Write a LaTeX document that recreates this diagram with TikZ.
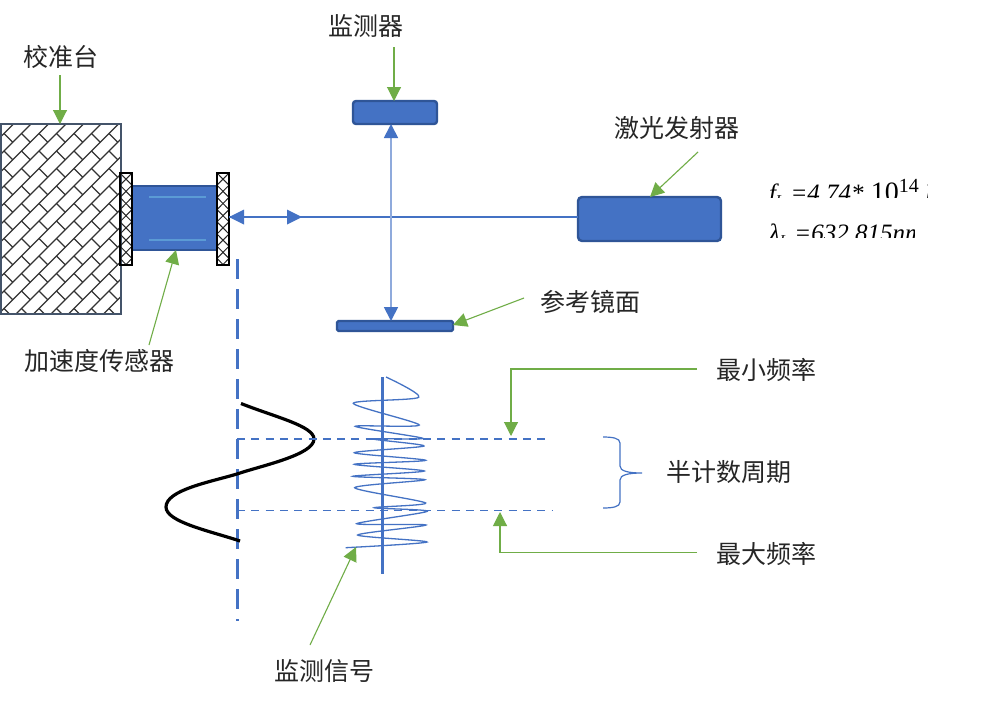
\documentclass[tikz,border=0pt]{standalone}
\usepackage{fontspec}
\setmainfont{Noto Sans CJK SC}
\newfontfamily\formulait{Liberation Serif Italic}
\newfontfamily\formulaup{Liberation Serif}
\usetikzlibrary{arrows.meta}
\definecolor{bodyblue}{HTML}{4472C4}
\definecolor{edgeblue}{HTML}{2F5597}
\definecolor{paleblue}{HTML}{8FAADC}
\definecolor{sheen}{HTML}{5B9BD5}
\definecolor{leafgreen}{HTML}{70AD47}
\definecolor{slateedge}{HTML}{44546A}
\tikzset{
  solidpart/.style={draw=edgeblue,fill=bodyblue,line width=2.4pt,inner sep=0,outer sep=0},
  platebox/.style={draw=black,line width=2.8pt,inner sep=0,outer sep=0,minimum width=12pt,minimum height=92pt},
  tablebox/.style={draw=slateedge,line width=2.8pt,inner sep=0,outer sep=0,minimum width=120pt,minimum height=190pt},
  caption/.style={font=\fontsize{25}{28}\selectfont,text=black!85,inner sep=0,outer sep=0},
  callout/.style={draw=leafgreen,line width=1.1pt,-{Triangle[width=14pt,length=14pt]},fill=none},
  beam/.style={draw=bodyblue,line width=1.2pt},
  beamarrow/.style={draw=paleblue,line width=1.8pt,{Triangle[width=14pt,length=14pt,color=bodyblue]}-{Triangle[width=14pt,length=14pt,color=bodyblue]}},
  levelline/.style={draw=bodyblue,line width=1.5pt,dash pattern=on 8pt off 6.3pt},
  formula/.style={font=\fontsize{25}{28}\selectfont\formulait,text=black,inner sep=0,outer sep=0,anchor=base west},
}
\begin{document}
\begin{tikzpicture}[x=1pt,y=-1pt]
\useasboundingbox (0,0) rectangle (1000,702);
\fill[white] (0,0) rectangle (1000,702);

% Shingle hatching of the calibration table
\begin{scope}
  \clip (1,124) rectangle (121,314);
  \foreach \k in {0,...,26}{
    \draw[black!80,line width=1.2pt] (\k*17.5+4,116) -- (\k*17.5-208+4,324);
  }
  \foreach \i in {0,...,8}{
    \foreach \j in {0,...,12}{
      \draw[black!80,line width=1.2pt] (\i*17.5-13.5,\j*17.5+116) -- ++(8.75,8.75);
    }
  }
\end{scope}
\node[tablebox] (table) at (61,219) {};

% Cross hatching of the two mounting plates
\begin{scope}
  \clip (120,173) rectangle (132,265);
  \foreach \k in {-1,...,8}{
    \draw[black!85,line width=1pt] (120,173+\k*12.2) -- (132,173+\k*12.2+12.2);
    \draw[black!85,line width=1pt] (120,173+\k*12.2+12.2) -- (132,173+\k*12.2);
  }
\end{scope}
\begin{scope}
  \clip (217,173) rectangle (229,265);
  \foreach \k in {-1,...,8}{
    \draw[black!85,line width=1pt] (217,173+\k*12.2) -- (229,173+\k*12.2+12.2);
    \draw[black!85,line width=1pt] (217,173+\k*12.2+12.2) -- (229,173+\k*12.2);
  }
\end{scope}

% Accelerometer body and mounting plates
\node[solidpart,minimum width=85pt,minimum height=64pt] (sensor) at (174.5,218) {};
\draw[sheen,line width=1.2pt] (149,197) -- (206,197);
\draw[sheen,line width=1.2pt] (149,240) -- (206,240);
\node[platebox] (plateL) at (126,219) {};
\node[platebox] (plateR) at (223,219) {};

% Optical parts
\node[solidpart,rounded corners=3pt,minimum width=84pt,minimum height=23pt] (detector) at (395,112.5) {};
\node[solidpart,rounded corners=1.5pt,minimum width=116pt,minimum height=10pt] (mirror) at (395,326) {};
\node[solidpart,rounded corners=4pt,minimum width=143pt,minimum height=44pt] (laser) at (649.5,219) {};

% Beams
\coordinate (beamy) at (300,217);
\coordinate (beamx) at (391,220);
\coordinate (midtip) at (302,217);
\draw[beam] (laser.west |- beamy) -- (plateR.east |- beamy);
\fill[bodyblue] (plateR.east |- beamy) -- ++(15,-7.5) -- ++(0,15) -- cycle;
\fill[bodyblue] (midtip) -- ++(-15,-7.5) -- ++(0,15) -- cycle;
\draw[beamarrow] (beamx |- detector.south) -- (beamx |- mirror.north);

% Motion axis, displacement curve and frequency levels
\coordinate (axisTop) at (237,259);
\coordinate (axisEnd) at (237,621);
\draw[bodyblue,line width=3pt,dash pattern=on 20pt off 10pt] (axisTop) -- (axisEnd);
\draw[black,line width=3.2pt] (241,403.5) .. controls (275,417) and (314,426) .. (314,439)
  .. controls (314,455) and (260,466) .. (237,474)
  .. controls (210,482) and (166,490) .. (166,507)
  .. controls (166,522) and (210,531) .. (240,541);
\coordinate (levelA) at (237,439);
\coordinate (levelAend) at (547,439);
\coordinate (levelB) at (237,510.5);
\coordinate (levelBend) at (553,510.5);
\draw[levelline] (levelA) -- (levelAend);
\draw[levelline] (levelB) -- (levelBend);

% Detector signal on its axis
\coordinate (sigTop) at (382,377);
\coordinate (sigEnd) at (382,574);
\draw[bodyblue,line width=3pt] (sigTop) -- (sigEnd);
\draw[bodyblue,line width=1.3pt] plot[smooth,tension=0.45] coordinates {
  (386,377) (418.7,397.3) (353.3,403.3) (419.3,425) (355.3,426.3) (422.7,438.3)
  (373.3,439) (424,446) (354.3,452.7) (425.7,460.3) (354.3,464.3) (424.3,471)
  (352.7,476.3) (425,479.7) (354.7,487.7) (425.7,503) (374.3,507.7) (427.3,511.3)
  (356.7,523.7) (426,525) (357.7,535) (427,542) (345.7,547.7)};

% Brace for the half counting period
\coordinate (braceTop) at (603,437);
\coordinate (braceTip) at (642,473);
\coordinate (braceEnd) at (603,508);
\draw[bodyblue,line width=1.2pt] (braceTop) .. controls (612,437) and (620,438) .. (620,443)
  -- (620,466) .. controls (620,471) and (628,473) .. (braceTip)
  .. controls (628,473) and (620,475) .. (620,480)
  -- (620,502) .. controls (620,507) and (612,508) .. (braceEnd);

% Captions
\node[caption] (capTable) at (61,57) {校准台};
\node[caption] (capDetector) at (366,26) {监测器};
\node[caption] (capLaser) at (677,128) {激光发射器};
\node[caption] (capMirror) at (590,302) {参考镜面};
\node[caption] (capSensor) at (99,361) {加速度传感器};
\node[caption] (capMin) at (766,370) {最小频率};
\node[caption] (capPeriod) at (729,472) {半计数周期};
\node[caption] (capMax) at (766,554) {最大频率};
\node[caption] (capSignal) at (324,671) {监测信号};

% Callout leaders
\coordinate (fromTable) at (60,75);
\coordinate (fromDetector) at (394,47);
\coordinate (fromLaser) at (698,152);
\coordinate (toLaser) at (650,197);
\coordinate (fromMirror) at (524,298);
\coordinate (toMirror) at (453,325);
\coordinate (fromSensor) at (149,345);
\coordinate (toSensor) at (176,250);
\coordinate (minFrom) at (697,369);
\coordinate (minBend) at (511,369);
\coordinate (minTo) at (511,436);
\coordinate (maxFrom) at (697,552.5);
\coordinate (maxBend) at (500,552.5);
\coordinate (maxTo) at (500,512);
\coordinate (fromSignal) at (310,645);
\coordinate (toSignal) at (356,547);
\draw[callout] (fromTable) -- (fromTable |- table.north);
\draw[callout] (fromDetector) -- (fromDetector |- detector.north);
\draw[callout] (fromLaser) -- (toLaser);
\draw[callout] (fromMirror) -- (toMirror);
\draw[callout] (fromSensor) -- (toSensor);
\draw[callout] (minFrom) -- (minBend) -- (minTo);
\draw[callout] (maxFrom) -- (maxBend) -- (maxTo);
\draw[callout] (fromSignal) -- (toSignal);

% Laser constants, cut off by their frames
\begin{scope}
  \clip (760,175) rectangle (927,197);
  \node[formula] (freq) at (769,201) {f\raisebox{-4pt}{\fontsize{15}{15}\selectfont L} =4.74* \hspace{1pt}{\formulaup\fontsize{28}{28}\selectfont 10\raisebox{9pt}{\fontsize{20}{20}\selectfont 14}}\hspace{6pt}Hz};
\end{scope}
\begin{scope}
  \clip (760,215) rectangle (914,237);
  \node[formula] (wave) at (769,241) {λ\raisebox{-4pt}{\fontsize{15}{15}\selectfont L} =632.815nm};
\end{scope}
\end{tikzpicture}
\end{document}
